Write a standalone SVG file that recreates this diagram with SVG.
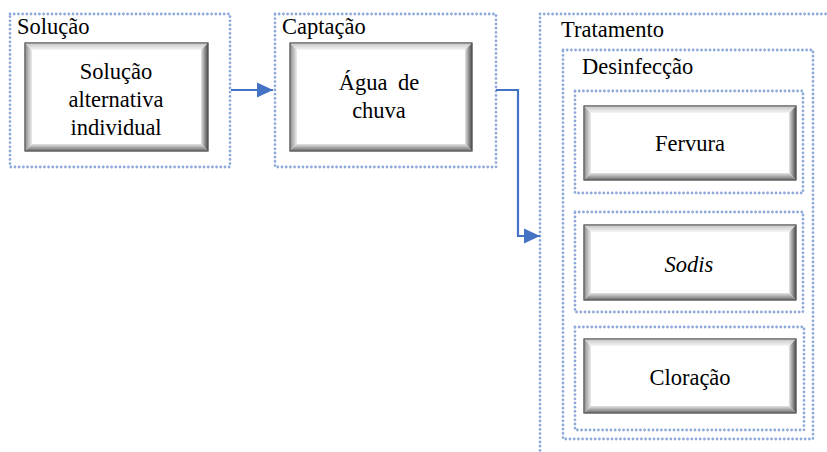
<svg xmlns="http://www.w3.org/2000/svg" width="827" height="452" viewBox="0 0 827 452">
<style>
.dot{fill:none;stroke:#8eaadb;stroke-width:2.8;stroke-linecap:round;stroke-dasharray:0 4.2}
.t{font-size:22.5px;fill:#000}
.m{text-anchor:middle}
.face{fill:#fff;stroke:#6f6f6f;stroke-width:1}
.bt{fill:url(#gTop)}.bl{fill:url(#gLeft)}.br{fill:url(#gRight)}.bb{fill:url(#gBot)}
.conn{fill:none;stroke:#4472c4;stroke-width:2.2;marker-end:url(#arr)}
</style>
<defs>
<linearGradient id="gTop" x1="0" y1="0" x2="0" y2="1"><stop offset="0" stop-color="#c4c4c4"/><stop offset="1" stop-color="#f6f6f6"/></linearGradient>
<linearGradient id="gLeft" x1="0" y1="0" x2="1" y2="0"><stop offset="0" stop-color="#8c8c8c"/><stop offset="1" stop-color="#ececec"/></linearGradient>
<linearGradient id="gRight" x1="0" y1="0" x2="1" y2="0"><stop offset="0" stop-color="#e4e4e4"/><stop offset="1" stop-color="#4a4a4a"/></linearGradient>
<linearGradient id="gBot" x1="0" y1="0" x2="0" y2="1"><stop offset="0" stop-color="#e4e4e4"/><stop offset="1" stop-color="#6a6a6a"/></linearGradient>
<marker id="arr" viewBox="0 0 16 16" refX="16" refY="8" markerWidth="16" markerHeight="16" markerUnits="userSpaceOnUse" orient="auto"><path d="M0,0.5 L16,8 L0,15.5 z" fill="#4472c4"/></marker>
</defs>

<g font-family="'Liberation Serif', 'DejaVu Serif', serif">
<g id="solucao-group">
<rect class="dot" x="10" y="14" width="220" height="153"/>
<text class="t" x="17" y="34">Solução</text>
</g>
<g id="solucao-box">
<rect class="face" x="25" y="43" width="183" height="108"/>
<polygon class="bt" points="25,43 208,43 201,50 32,50"/>
<polygon class="bl" points="25,43 32,50 32,144 25,151"/>
<polygon class="br" points="208,43 208,151 201,144 201,50"/>
<polygon class="bb" points="25,151 208,151 201,144 32,144"/>
<rect x="25" y="43" width="183" height="108" fill="none" stroke="#5a5a5a" stroke-width="1"/>
<text class="t m" x="116" y="79">Solução</text>
<text class="t m" x="116" y="107">alternativa</text>
<text class="t m" x="116" y="135">individual</text>
</g>

<g id="captacao-group">
<rect class="dot" x="275" y="14" width="221" height="153"/>
<text class="t" x="282" y="34">Captação</text>
</g>
<g id="captacao-box">
<rect class="face" x="290" y="43" width="182" height="108"/>
<polygon class="bt" points="290,43 472,43 465,50 297,50"/>
<polygon class="bl" points="290,43 297,50 297,144 290,151"/>
<polygon class="br" points="472,43 472,151 465,144 465,50"/>
<polygon class="bb" points="290,151 472,151 465,144 297,144"/>
<rect x="290" y="43" width="182" height="108" fill="none" stroke="#5a5a5a" stroke-width="1"/>
<text class="t m" x="379" y="90" word-spacing="5">Água de</text>
<text class="t m" x="379" y="118">chuva</text>
</g>

<g id="tratamento-group">
<rect class="dot" x="540" y="14" width="300" height="460"/>
<text class="t" x="561" y="37">Tratamento</text>
</g>
<g id="desinfeccao-group">
<rect class="dot" x="563" y="50" width="250" height="389"/>
<text class="t" x="582" y="74">Desinfecção</text>
</g>

<g id="fervura">
<rect class="dot" x="575" y="91" width="228" height="102"/>
<rect class="face" x="584" y="106" width="212" height="74"/>
<polygon class="bt" points="584,106 796,106 789,113 591,113"/>
<polygon class="bl" points="584,106 591,113 591,173 584,180"/>
<polygon class="br" points="796,106 796,180 789,173 789,113"/>
<polygon class="bb" points="584,180 796,180 789,173 591,173"/>
<rect x="584" y="106" width="212" height="74" fill="none" stroke="#5a5a5a" stroke-width="1"/>
<text class="t m" x="690" y="151">Fervura</text>
</g>

<g id="sodis">
<rect class="dot" x="575" y="212" width="228" height="100"/>
<rect class="face" x="584" y="225" width="212" height="75"/>
<polygon class="bt" points="584,225 796,225 789,232 591,232"/>
<polygon class="bl" points="584,225 591,232 591,293 584,300"/>
<polygon class="br" points="796,225 796,300 789,293 789,232"/>
<polygon class="bb" points="584,300 796,300 789,293 591,293"/>
<rect x="584" y="225" width="212" height="75" fill="none" stroke="#5a5a5a" stroke-width="1"/>
<text class="t m" x="689" y="272" font-style="italic">Sodis</text>
</g>

<g id="cloracao">
<rect class="dot" x="575" y="327" width="229" height="103"/>
<rect class="face" x="584" y="339" width="212" height="74"/>
<polygon class="bt" points="584,339 796,339 789,346 591,346"/>
<polygon class="bl" points="584,339 591,346 591,406 584,413"/>
<polygon class="br" points="796,339 796,413 789,406 789,346"/>
<polygon class="bb" points="584,413 796,413 789,406 591,406"/>
<rect x="584" y="339" width="212" height="74" fill="none" stroke="#5a5a5a" stroke-width="1"/>
<text class="t m" x="690" y="385">Cloração</text>
</g>
</g>

<g id="connectors">
<path class="conn" d="M231,90 H273"/>
<path class="conn" d="M496,90 H518 V236 H540"/>
</g>
</svg>
